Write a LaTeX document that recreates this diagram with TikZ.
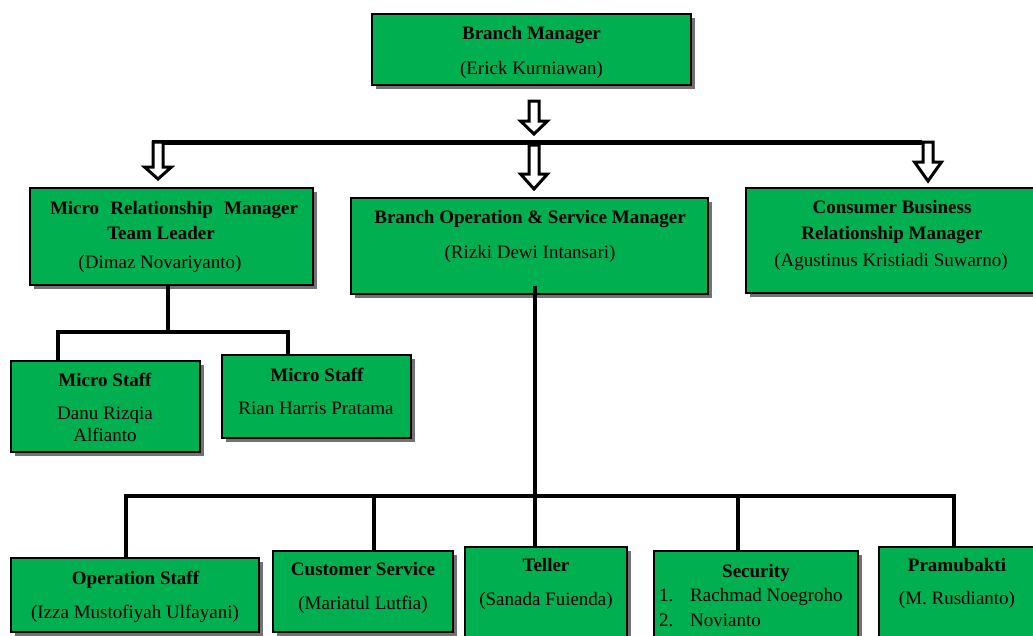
\documentclass[tikz,border=0pt]{standalone}
\usepackage{fontspec}
\setmainfont{Liberation Serif}
\usetikzlibrary{shadows,calc}
\definecolor{boxgreen}{RGB}{0,176,80}
\tikzset{
  orgbox/.style={draw=black, line width=1.2pt, fill=boxgreen, inner sep=0pt, outer sep=0pt,
    anchor=north west, drop shadow={shadow xshift=4pt, shadow yshift=-4pt, fill=black!65, opacity=0.85}},
  ttl/.style={anchor=base, inner sep=0pt, font=\fontsize{19}{23}\selectfont\bfseries},
  nm/.style={anchor=base, inner sep=0pt, font=\fontsize{19}{23}\selectfont},
  nml/.style={anchor=base west, inner sep=0pt, font=\fontsize{19}{23}\selectfont},
  conn/.style={draw=black, line width=3.5pt, line join=miter},
  busline/.style={draw=black, line width=5pt},
  blockarrow/.style={draw=black, line width=3pt, fill=white, line join=miter}
}
\newcommand\hollowarrow[3]{% start coordinate, tip coordinate, head length
  \draw[blockarrow] ($(#1)+(-5,0)$) -- ($(#1)+(5,0)$) -- ($(#2)+(5,-#3)$) -- ($(#2)+(13.5,-#3)$)
    -- (#2) -- ($(#2)+(-13.5,-#3)$) -- ($(#2)+(-5,-#3)$) -- cycle;}
\begin{document}
\begin{tikzpicture}[x=1pt,y=-1pt]
\useasboundingbox (0,0) rectangle (1033,635);
\clip (0,0) rectangle (1033,635);

% ---- boxes ----
\node[orgbox, minimum width=319, minimum height=71] (bm) at (372,14) {};
\node[orgbox, minimum width=283, minimum height=97] (mrm) at (30,188) {};
\node[orgbox, minimum width=357, minimum height=96] (bos) at (351,198) {};
\node[orgbox, minimum width=300, minimum height=105] (cbrm) at (746,188) {};
\node[orgbox, minimum width=189, minimum height=91] (ms1) at (11,361) {};
\node[orgbox, minimum width=189, minimum height=83] (ms2) at (222,355) {};
\node[orgbox, minimum width=248, minimum height=74] (op) at (11,558) {};
\node[orgbox, minimum width=180, minimum height=81] (cs) at (273,551) {};
\node[orgbox, minimum width=162, minimum height=110] (tel) at (465,547) {};
\node[orgbox, minimum width=204, minimum height=110] (sec) at (654,551) {};
\node[orgbox, minimum width=170, minimum height=110] (pra) at (879,547) {};

% ---- texts ----
\node[ttl] (bmA) at (531.5,39) {Branch Manager};
\node[nm]  (bmB) at (531.5,74) {(Erick Kurniawan)};

\node[ttl] (mrmA) at (174,214) {\makebox[248pt][s]{Micro\hfill Relationship\hfill Manager}};
\node[ttl] (mrmB) at (161,239) {Team Leader};
\node[nm]  (mrmC) at (160,268) {(Dimaz Novariyanto)};

\node[ttl] (bosA) at (530,223) {Branch Operation \& Service Manager};
\node[nm]  (bosB) at (530,258) {(Rizki Dewi Intansari)};

\node[ttl] (cbA) at (892,213) {Consumer Business};
\node[ttl] (cbB) at (892,239) {Relationship Manager};
\node[nm]  (cbC) at (891,266) {(Agustinus Kristiadi Suwarno)};

\node[ttl] (ms1A) at (105,386) {Micro Staff};
\node[nm]  (ms1B) at (105,419) {Danu Rizqia};
\node[nm]  (ms1C) at (105,441) {Alfianto};

\node[ttl] (ms2A) at (317,381) {Micro Staff};
\node[nm]  (ms2B) at (316,414) {Rian Harris Pratama};

\node[ttl] (opA) at (135.5,584) {Operation Staff};
\node[nm]  (opB) at (135,618) {(Izza Mustofiyah Ulfayani)};

\node[ttl] (csA) at (363,575) {Customer Service};
\node[nm]  (csB) at (363,609) {(Mariatul Lutfia)};

\node[ttl] (telA) at (546,571) {Teller};
\node[nm]  (telB) at (546,605) {(Sanada Fuienda)};

\node[ttl] (secA) at (756,577) {Security};
\node[nml] (secN1) at (659,601) {1.};
\node[nml] (secB) at (690,601) {Rachmad Noegroho};
\node[nml] (secN2) at (659,626) {2.};
\node[nml] (secC) at (690,626) {Novianto};

\node[ttl] (praA) at (957,571) {Pramubakti};
\node[nm]  (praB) at (957,604) {(M. Rusdianto)};

% ---- top distribution ----
\coordinate (busL) at (152,142);
\coordinate (busR) at (922,142);
\draw[busline] (busL) -- (busR);

\coordinate (a1s) at (534,101);  \coordinate (a1e) at (534,134);
\coordinate (a2s) at (534,145);  \coordinate (a2e) at (534,189);
\coordinate (a3s) at (158,142);  \coordinate (a3e) at (158,179);
\coordinate (a4s) at (928,142);  \coordinate (a4e) at (928,181);
\hollowarrow{a1s}{a1e}{13}
\hollowarrow{a2s}{a2e}{15}
\hollowarrow{a3s}{a3e}{12}
\hollowarrow{a4s}{a4e}{19}

% ---- micro relationship manager branch ----
\coordinate (mb) at (168,332);
\coordinate (m1) at (58,332);
\coordinate (m2) at (288,332);
\draw[conn] (mrm.south -| mb) -- (mb);
\draw[conn] (m1 |- ms1.north) -- (m1) -- (m2) -- (m2 |- ms2.north);

% ---- operations branch ----
\coordinate (b1) at (126,496);
\coordinate (b2) at (374,496);
\coordinate (b3) at (535,496);
\coordinate (b4) at (738,496);
\coordinate (b5) at (954,496);
\draw[conn] ($(bos.south -| b3)+(0,-8)$) -- (b3 |- tel.north);
\draw[conn] (b1 |- op.north) -- (b1) -- (b5) -- (b5 |- pra.north);
\draw[conn] (b2) -- (b2 |- cs.north);
\draw[conn] (b4) -- (b4 |- sec.north);
\end{tikzpicture}
\end{document}
